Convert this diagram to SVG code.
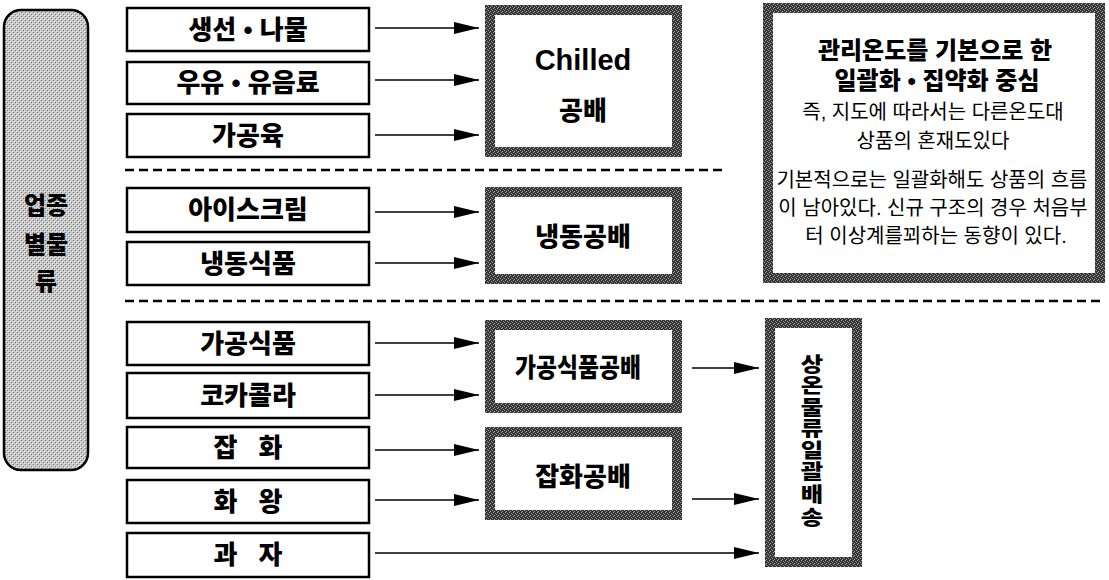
<svg xmlns="http://www.w3.org/2000/svg" width="1109" height="580" viewBox="0 0 1109 580">
<defs>
<pattern id="dk" width="4" height="4" patternUnits="userSpaceOnUse">
<rect width="4" height="4" fill="#333"/>
<rect x="1" y="0" width="1" height="1" fill="#a8a8a8"/>
<rect x="3" y="1" width="1" height="1" fill="#8c8c8c"/>
<rect x="0" y="2" width="1" height="1" fill="#9a9a9a"/>
<rect x="2" y="3" width="1" height="1" fill="#b0b0b0"/>
</pattern>
<pattern id="lt" width="4" height="4" patternUnits="userSpaceOnUse">
<rect width="4" height="4" fill="#c8c8c8"/>
<rect x="1" y="0" width="1" height="1" fill="#6a6a6a"/>
<rect x="3" y="2" width="1" height="1" fill="#7a7a7a"/>
<rect x="0" y="3" width="1" height="1" fill="#f4f4f4"/>
<rect x="2" y="1" width="1" height="1" fill="#f0f0f0"/>
</pattern>
<marker id="ah" markerWidth="26" markerHeight="14" refX="25" refY="7" orient="auto" markerUnits="userSpaceOnUse">
<path d="M0,1 L25,7 L0,13 Z" fill="#000"/>
</marker>
</defs>
<style>
.src{fill:#fff;stroke:#000;stroke-width:2.5}
.hub{fill:#fff;stroke:url(#dk);stroke-width:10}
.lbl{font-family:"Liberation Sans","Noto Sans CJK KR",sans-serif;font-weight:900;font-size:26px;text-anchor:middle;fill:#000}
.cat{font-size:24px}
.en{font-weight:bold;font-size:29px}
.vert{font-size:20px}
.note{font-family:"Liberation Sans","Noto Sans CJK KR",sans-serif;font-size:20px;text-anchor:middle;fill:#000}
.notes{font-family:"Liberation Sans","Noto Sans CJK KR",sans-serif;font-weight:900;font-size:24px;text-anchor:middle;fill:#000}
.arr{stroke:#000;stroke-width:1.6;fill:none;marker-end:url(#ah)}
.dash{stroke:#000;stroke-width:2.5;stroke-dasharray:9,5;fill:none}
</style>
<rect width="1109" height="580" fill="#fff"/>

<g id="category">
<rect x="4" y="10" width="84" height="460" rx="17" fill="url(#lt)" stroke="#000" stroke-width="2.5"/>
<text class="lbl cat" x="46" y="214">업종</text>
<text class="lbl cat" x="46" y="253">별물</text>
<text class="lbl cat" x="46" y="290">류</text>
</g>

<g id="dividers">
<line class="dash" x1="125" y1="170" x2="725" y2="170"/>
<line class="dash" x1="125" y1="301" x2="1102" y2="301"/>
</g>

<g id="n-seafood"><rect class="src" x="127" y="8" width="242" height="43"/><text class="lbl" x="248" y="39">생선 • 나물</text></g>
<g id="n-milk"><rect class="src" x="127" y="62" width="242" height="42"/><text class="lbl" x="248" y="92">우유 • 유음료</text></g>
<g id="n-meat"><rect class="src" x="127" y="114" width="242" height="43"/><text class="lbl" x="248" y="145">가공육</text></g>
<g id="n-icecream"><rect class="src" x="127" y="188" width="242" height="44"/><text class="lbl" x="248" y="219">아이스크림</text></g>
<g id="n-frozen"><rect class="src" x="127" y="242" width="242" height="43"/><text class="lbl" x="248" y="273">냉동식품</text></g>
<g id="n-processed"><rect class="src" x="127" y="322" width="242" height="43"/><text class="lbl" x="248" y="353">가공식품</text></g>
<g id="n-cola"><rect class="src" x="127" y="373" width="242" height="45"/><text class="lbl" x="248" y="405">코카콜라</text></g>
<g id="n-sundries"><rect class="src" x="127" y="427" width="242" height="41"/><text class="lbl" x="248" y="457" style="word-spacing:14px">잡 화</text></g>
<g id="n-kao"><rect class="src" x="127" y="480" width="242" height="43"/><text class="lbl" x="248" y="511" style="word-spacing:14px">화 왕</text></g>
<g id="n-snack"><rect class="src" x="127" y="533" width="242" height="44"/><text class="lbl" x="248" y="564" style="word-spacing:14px">과 자</text></g>

<g id="h-chilled"><rect class="hub" x="490" y="10" width="187" height="142"/>
<text class="lbl en" x="583" y="70">Chilled</text>
<text class="lbl" x="583" y="120">공배</text></g>
<g id="h-frozen"><rect class="hub" x="490" y="192" width="187" height="87"/>
<text class="lbl" x="583" y="246">냉동공배</text></g>
<g id="h-processed"><rect class="hub" x="490" y="325" width="187" height="83"/>
<text class="lbl" x="578" y="377" textLength="126" lengthAdjust="spacingAndGlyphs">가공식품공배</text></g>
<g id="h-sundries"><rect class="hub" x="490" y="432" width="187" height="83"/>
<text class="lbl" x="583" y="486">잡화공배</text></g>
<g id="h-ambient"><rect class="hub" x="770" y="323" width="87" height="239"/>
<text class="lbl vert" x="0" y="372" transform="translate(812,0) scale(1.22,1)"><tspan x="0">상</tspan><tspan x="0" dy="21.5">온</tspan><tspan x="0" dy="21.5">물</tspan><tspan x="0" dy="21.5">류</tspan><tspan x="0" dy="21.5">일</tspan><tspan x="0" dy="21.5">괄</tspan><tspan x="0" dy="23">배</tspan><tspan x="0" dy="23">송</tspan></text></g>

<g id="note">
<rect class="hub" x="768" y="8" width="332" height="270"/>
<text class="notes" x="935" y="59">관리온도를 기본으로 한</text>
<text class="notes" x="937" y="89">일괄화 • 집약화 중심</text>
<text class="note" x="933" y="119">즉, 지도에 따라서는 다른온도대</text>
<text class="note" x="933" y="148">상품의 혼재도있다</text>
<text class="note" x="932" y="187">기본적으로는 일괄화해도 상품의 흐름</text>
<text class="note" x="933" y="215">이 남아있다. 신규 구조의 경우 처음부</text>
<text class="note" x="936" y="243">터 이상계를꾀하는 동향이 있다.</text>
</g>

<g id="connectors">
<line class="arr" x1="375" y1="28" x2="479" y2="28"/>
<line class="arr" x1="375" y1="80" x2="479" y2="80"/>
<line class="arr" x1="375" y1="135" x2="479" y2="135"/>
<line class="arr" x1="375" y1="212" x2="479" y2="212"/>
<line class="arr" x1="375" y1="263" x2="479" y2="263"/>
<line class="arr" x1="375" y1="343" x2="479" y2="343"/>
<line class="arr" x1="375" y1="395" x2="479" y2="395"/>
<line class="arr" x1="375" y1="450" x2="479" y2="450"/>
<line class="arr" x1="375" y1="500" x2="479" y2="500"/>
<line class="arr" x1="692" y1="368" x2="759" y2="368"/>
<line class="arr" x1="692" y1="499" x2="759" y2="499"/>
<line class="arr" x1="375" y1="553" x2="759" y2="553"/>
</g>
</svg>
